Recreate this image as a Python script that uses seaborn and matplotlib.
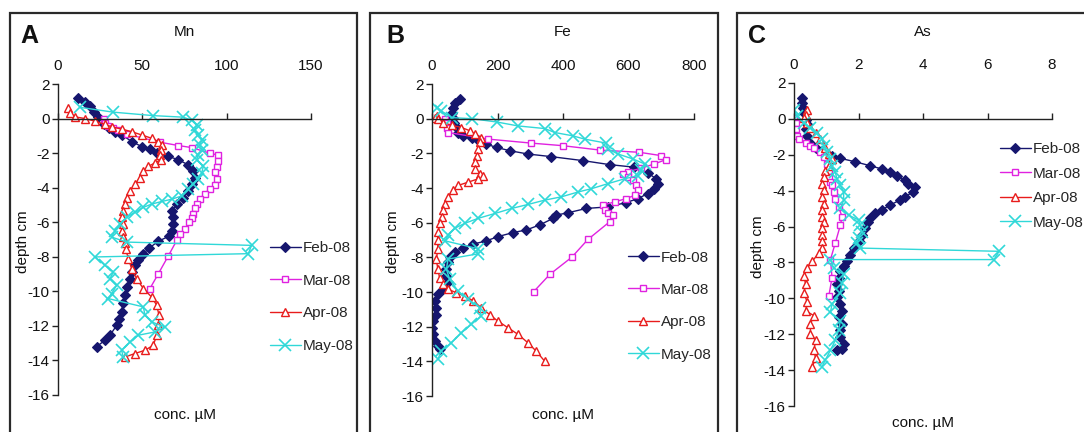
import numpy as np
import pandas as pd
import matplotlib
matplotlib.use("Agg")
import matplotlib.pyplot as plt
from matplotlib.patches import Rectangle
import seaborn as sns

# ---------------- data (conc, depth) ----------------
months = ["Feb-08", "Mar-08", "Apr-08", "May-08"]

# Mn (uM)
mn_feb_conc = [11.7, 16, 19, 21.5, 24, 27, 30, 34, 38, 43.7, 49.6, 54.5, 58.5, 65.4, 71.3, 77, 80, 81, 79.6, 77, 74.3, 70.4, 67.8, 68.4, 68.4, 67.4, 66, 59.5, 54, 50.6, 47.5, 45.6, 44, 42.7, 41, 39.7, 38.5, 37.7, 36, 34.8, 30.8, 27.9, 22.9]
mn_feb_depth = [1.18, 0.95, 0.72, 0.38, 0.1, -0.29, -0.57, -0.76, -0.95, -1.33, -1.62, -1.75, -2.0, -2.19, -2.38, -2.67, -3.05, -3.43, -3.81, -4.19, -4.57, -4.95, -5.33, -5.71, -6.1, -6.48, -6.8, -7.1, -7.5, -7.82, -8.2, -8.5, -8.9, -9.27, -9.75, -10.2, -10.7, -11.2, -11.6, -11.97, -12.54, -12.83, -13.2]
mn_mar_conc = [27.5, 28, 29.8, 32.8, 35.8, 40.7, 60.5, 71.3, 79.2, 90, 95, 95, 94, 93, 94, 93, 90, 87, 84.2, 82.2, 81, 80.2, 79.2, 77.5, 75.3, 72.5, 70.4, 65.4, 59.5, 54.5]
mn_mar_depth = [-0.02, -0.23, -0.45, -0.55, -0.67, -0.9, -1.37, -1.56, -1.68, -2.0, -2.12, -2.43, -2.81, -3.1, -3.5, -3.87, -4.06, -4.35, -4.64, -4.95, -5.2, -5.5, -5.75, -6.0, -6.4, -6.7, -7.05, -7.95, -8.98, -9.84]
mn_apr_conc = [5.7, 7.1, 10, 16, 21.9, 27.9, 31.8, 37.7, 43.7, 49.6, 55.5, 59.5, 61.5, 61, 60.5, 61, 57.5, 53.6, 50.6, 48.6, 45.7, 42.7, 40.7, 39.7, 38.7, 37.7, 38.7, 37.7, 38.7, 40, 40.1, 41.7, 43.7, 46.6, 50.6, 55.5, 58.5, 59.9, 59.5, 58.5, 56.5, 51.6, 45.6, 39.7]
mn_apr_depth = [0.61, 0.34, 0.1, 0, -0.15, -0.34, -0.48, -0.61, -0.76, -0.95, -1.14, -1.33, -1.52, -1.81, -2.1, -2.38, -2.57, -2.76, -3.05, -3.43, -3.81, -4.19, -4.57, -4.95, -5.33, -5.71, -6.1, -6.48, -6.86, -7.2, -7.53, -8.11, -8.69, -9.27, -9.84, -10.33, -10.8, -11.39, -11.97, -12.54, -13.12, -13.41, -13.6, -13.8]
mn_may_conc = [13, 32.8, 56.5, 74.3, 79.2, 82.2, 81.2, 83.2, 85.2, 84.2, 85.2, 83.2, 82.2, 86.2, 85.2, 83.2, 80.2, 77.3, 73.3, 67.4, 61.5, 55.5, 50.6, 45.7, 40.7, 36.8, 33.8, 31.8, 40.7, 114.8, 112.8, 21.9, 27.9, 32.8, 30.8, 34.8, 31.8, 29.8, 50.6, 51.6, 55.5, 63.4, 57.5, 47.6, 42.7, 37.7, 38.7]
mn_may_depth = [0.65, 0.37, 0.17, 0.08, -0.1, -0.38, -0.67, -0.95, -1.24, -1.52, -1.81, -2.1, -2.38, -2.76, -3.14, -3.52, -3.81, -4.1, -4.48, -4.67, -4.8, -4.95, -5.14, -5.43, -5.71, -6.1, -6.48, -6.86, -7.15, -7.34, -7.82, -8.01, -8.5, -8.88, -9.27, -9.65, -10.13, -10.42, -10.9, -11.39, -11.77, -12.06, -12.35, -12.54, -12.93, -13.41, -13.8]

# Fe (uM)
fe_feb_conc = [85, 70, 65, 62, 65, 68, 75, 80, 95, 121, 141, 166, 197, 238, 293, 364, 461, 542, 618, 659, 684, 689, 679, 659, 629, 593, 537, 471, 415, 380, 370, 329, 288, 248, 202, 166, 125, 95, 69, 54, 49, 44, 44, 49, 34, 18, 8, 13, 13, 3, 0, 3, 8, 18, 24]
fe_feb_depth = [1.14, 0.91, 0.63, 0.34, 0.06, -0.23, -0.51, -0.8, -0.99, -1.09, -1.22, -1.47, -1.66, -1.85, -2.04, -2.19, -2.42, -2.65, -2.8, -3.12, -3.47, -3.75, -4.04, -4.32, -4.61, -4.84, -5.09, -5.18, -5.43, -5.56, -5.75, -6.13, -6.42, -6.57, -6.8, -7.05, -7.24, -7.44, -7.72, -8.0, -8.29, -8.67, -9.05, -9.44, -9.81, -10.1, -10.5, -10.9, -11.3, -11.7, -12.1, -12.4, -12.8, -13.1, -13.3]
fe_mar_conc = [40, 45, 45, 50, 172, 303, 400, 512, 633, 699, 715, 679, 639, 599, 583, 599, 614, 624, 629, 619, 593, 558, 522, 527, 538, 553, 543, 476, 427, 360, 310]
fe_mar_depth = [-0.04, -0.23, -0.51, -0.8, -1.18, -1.41, -1.56, -1.81, -1.94, -2.13, -2.36, -2.61, -2.86, -3.05, -3.18, -3.37, -3.56, -3.85, -4.13, -4.42, -4.61, -4.8, -4.99, -5.28, -5.47, -5.56, -5.94, -6.97, -7.99, -8.98, -9.99]
fe_apr_conc = [14, 9, 19, 35, 60, 90, 116, 131, 151, 146, 141, 136, 131, 131, 146, 157, 141, 111, 80, 65, 50, 40, 35, 30, 24, 19, 17, 18, 13, 18, 23, 34, 49, 74, 100, 125, 150, 176, 201, 232, 263, 293, 318, 344]
fe_apr_depth = [0.17, 0.06, -0.04, -0.23, -0.38, -0.51, -0.7, -0.9, -1.09, -1.37, -1.75, -2.13, -2.51, -2.9, -3.18, -3.28, -3.47, -3.66, -3.85, -4.13, -4.51, -4.9, -5.28, -5.66, -6.04, -6.51, -6.99, -7.53, -8.11, -8.69, -9.17, -9.55, -9.84, -10.04, -10.23, -10.5, -10.9, -11.3, -11.68, -12.06, -12.45, -12.93, -13.41, -13.99]
fe_may_conc = [14, 29, 60, 121, 197, 263, 344, 375, 430, 466, 532, 537, 568, 613, 649, 639, 629, 588, 537, 487, 446, 395, 344, 293, 243, 192, 141, 100, 70, 50, 40, 140, 140, 49, 44, 54, 79, 110, 146, 150, 120, 90, 59, 28, 18]
fe_may_depth = [0.63, 0.44, 0.06, 0, -0.19, -0.42, -0.57, -0.8, -0.99, -1.18, -1.41, -1.75, -2.04, -2.32, -2.61, -2.99, -3.28, -3.47, -3.75, -4.04, -4.23, -4.51, -4.7, -4.95, -5.18, -5.47, -5.75, -6.04, -6.32, -6.7, -7.05, -7.5, -7.8, -8.1, -8.69, -9.27, -9.94, -10.42, -10.9, -11.39, -11.87, -12.35, -12.93, -13.41, -13.89]

# As (uM)
as_feb_conc = [0.26, 0.26, 0.29, 0.31, 0.36, 0.41, 0.36, 0.41, 0.51, 0.67, 0.87, 1.03, 1.18, 1.44, 1.9, 2.36, 2.72, 2.97, 3.18, 3.44, 3.54, 3.74, 3.69, 3.44, 3.28, 2.97, 2.72, 2.51, 2.36, 2.31, 2.21, 2.1, 2.03, 1.85, 1.74, 1.64, 1.54, 1.44, 1.38, 1.34, 1.38, 1.34, 1.44, 1.49, 1.38, 1.49, 1.44, 1.44, 1.54, 1.49, 1.34]
as_feb_depth = [1.16, 0.88, 0.61, 0.33, -0.04, -0.31, -0.59, -0.95, -1.32, -1.6, -1.78, -1.96, -2.09, -2.2, -2.39, -2.61, -2.79, -2.97, -3.16, -3.43, -3.61, -3.8, -4.07, -4.35, -4.53, -4.81, -5.08, -5.27, -5.54, -5.72, -6.09, -6.46, -6.83, -7.2, -7.56, -7.93, -8.2, -8.48, -8.85, -9.22, -9.59, -9.95, -10.32, -10.69, -11.05, -11.42, -11.79, -12.15, -12.52, -12.8, -12.89]
as_mar_conc = [0.0, 0.05, 0.05, 0.1, 0.15, 0.36, 0.51, 0.62, 0.82, 0.92, 1.03, 1.08, 1.08, 1.13, 1.18, 1.23, 1.28, 1.38, 1.49, 1.44, 1.28, 1.13, 1.18, 1.08]
as_mar_depth = [0.06, -0.22, -0.59, -0.95, -1.14, -1.32, -1.5, -1.6, -1.87, -2.15, -2.51, -2.88, -3.25, -3.52, -3.71, -4.07, -4.44, -4.9, -5.45, -5.91, -6.92, -7.84, -8.85, -9.86]
as_apr_conc = [0.41, 0.36, 0.31, 0.41, 0.51, 0.67, 0.82, 0.97, 1.08, 1.18, 1.08, 0.97, 0.92, 0.87, 0.92, 0.87, 0.92, 0.87, 0.87, 0.92, 0.87, 0.87, 0.87, 0.87, 0.77, 0.57, 0.41, 0.31, 0.36, 0.31, 0.41, 0.36, 0.62, 0.51, 0.51, 0.67, 0.62, 0.67, 0.57]
as_apr_depth = [0.51, 0.24, 0.06, -0.22, -0.5, -0.77, -1.14, -1.6, -1.96, -2.24, -2.61, -2.88, -3.25, -3.61, -3.98, -4.35, -4.72, -5.08, -5.45, -5.72, -6.09, -6.46, -6.8, -7.2, -7.47, -7.93, -8.3, -8.76, -9.22, -9.68, -10.23, -10.69, -10.97, -11.42, -11.97, -12.34, -12.89, -13.35, -13.8]
as_may_conc = [0.0, 0.1, 0.31, 0.51, 0.72, 0.87, 0.92, 1.03, 1.13, 1.18, 1.28, 1.33, 1.44, 1.54, 1.54, 1.44, 1.69, 2.0, 2.05, 2.1, 2.0, 1.95, 2.05, 6.36, 6.2, 1.13, 1.23, 1.54, 1.49, 1.44, 1.18, 1.13, 1.44, 1.38, 1.28, 1.13, 0.97, 0.87]
as_may_depth = [0.51, 0.15, -0.22, -0.5, -0.77, -1.14, -1.5, -1.87, -2.24, -2.61, -2.97, -3.34, -3.71, -4.07, -4.53, -4.99, -5.36, -5.63, -5.91, -6.28, -6.64, -6.9, -7.2, -7.38, -7.84, -7.84, -8.3, -8.67, -9.12, -9.68, -10.32, -10.78, -11.24, -11.79, -12.34, -12.89, -13.44, -13.8]

elements = ["Mn", "Fe", "As"]
panel_letters = ["A", "B", "C"]
mn_xticks = [0, 50, 100, 150]
fe_xticks = [0, 200, 400, 600, 800]
as_xticks = [0, 2, 4, 6, 8]
depth_ticks = [2, 0, -2, -4, -6, -8, -10, -12, -14, -16]

series = {
    "Mn": [(mn_feb_conc, mn_feb_depth), (mn_mar_conc, mn_mar_depth), (mn_apr_conc, mn_apr_depth), (mn_may_conc, mn_may_depth)],
    "Fe": [(fe_feb_conc, fe_feb_depth), (fe_mar_conc, fe_mar_depth), (fe_apr_conc, fe_apr_depth), (fe_may_conc, fe_may_depth)],
    "As": [(as_feb_conc, as_feb_depth), (as_mar_conc, as_mar_depth), (as_apr_conc, as_apr_depth), (as_may_conc, as_may_depth)],
}
xticks = {"Mn": mn_xticks, "Fe": fe_xticks, "As": as_xticks}

# ---------------- style ----------------
sns.set_style("white")
plt.rcParams['font.family'] = ['Liberation Sans', 'DejaVu Sans']
plt.rcParams['axes.unicode_minus'] = False

W, H = 1084, 432
fig = plt.figure(figsize=(W / 100, H / 100), dpi=100)

def fx(x):
    return x / W

def fy(y):
    return 1 - y / H

styles = [
    dict(color="#16166e", marker="D", markersize=5.0, markerfacecolor="#16166e", markeredgecolor="#16166e", markeredgewidth=0.8),
    dict(color="#e022e0", marker="s", markersize=5.0, markerfacecolor="white", markeredgecolor="#e022e0", markeredgewidth=1.0),
    dict(color="#e81c1c", marker="^", markersize=5.5, markerfacecolor="white", markeredgecolor="#e81c1c", markeredgewidth=1.0),
    dict(color="#30d8d8", marker="x", markersize=8.0, markerfacecolor="#30d8d8", markeredgecolor="#30d8d8", markeredgewidth=1.2),
]

# axes geometry in pixels: (left, right, top(y=2), bottom(y=-16))
geo = {
    "Mn": (58, 311, 84, 395),
    "Fe": (432, 694, 84, 396),
    "As": (794, 1052, 83, 406),
}
boxes = {"Mn": (10, 357), "Fe": (370, 718), "As": (737, 1095)}
letter_x = {"Mn": 20, "Fe": 386, "As": 748}
ylabel_x = {"Mn": 23, "Fe": 393, "As": 758}
xlabel_y = {"Mn": 415, "Fe": 415, "As": 423}
legend_geo = {  # (left px, center y px, labelspacing)
    "Mn": (270, 297, 1.22),
    "Fe": (628, 306, 1.2),
    "As": (1000, 186, 0.68),
}
FS = 11

for el, letter in zip(elements, panel_letters):
    l, r, t, b = geo[el]
    ax = fig.add_axes([fx(l), fy(b), fx(r) - fx(l), fy(t) - fy(b)])
    ax.set_facecolor("none")
    handles = []
    for (conc, depth), st, m in zip(series[el], styles, months):
        df = pd.DataFrame({"conc": conc, "depth": depth})
        sns.lineplot(data=df, x="conc", y="depth", sort=False, estimator=None,
                     ax=ax, linewidth=1.0, legend=False, **st)
        line = ax.lines[-1]
        line.set_label(m)
        handles.append(line)

    xt = xticks[el]
    ax.set_xlim(xt[0], xt[-1])
    ax.set_ylim(-16, 2)
    ax.set_xticks(xt)
    ax.set_xticklabels([str(v) for v in xt])
    ax.set_yticks(depth_ticks)
    ax.set_yticklabels([str(v) for v in depth_ticks])
    ax.set_xlabel("")
    ax.set_ylabel("")
    ax.grid(False)

    for s in ["top", "right"]:
        ax.spines[s].set_visible(False)
    ax.spines["bottom"].set_position(("data", 0))
    ax.spines["bottom"].set_bounds(xt[0], xt[-1])
    for s in ["left", "bottom"]:
        ax.spines[s].set_color("#222222")
        ax.spines[s].set_linewidth(1.0)
    ax.spines["left"].set_bounds(-16, 2)

    ax.tick_params(axis="x", which="major", bottom=True, top=False,
                   labelbottom=False, labeltop=True, direction="in",
                   length=4, width=1, color="#222222", pad=8,
                   labelsize=FS, labelcolor="#111111")
    ax.tick_params(axis="y", which="major", left=True, direction="out",
                   length=4, width=1, color="#222222", pad=2,
                   labelsize=FS, labelcolor="#111111")

    # titles / labels
    cx = (l + r) / 2
    fig.text(fx(cx), fy(32), el, ha="center", va="center", fontsize=FS, color="#111111")
    fig.text(fx(letter_x[el]), fy(36), letter, ha="left", va="center",
             fontsize=18, fontweight="bold", color="#111111")
    fig.text(fx(ylabel_x[el]), fy((t + b) / 2 + 2), "depth cm", rotation=90,
             ha="center", va="center", fontsize=FS, color="#111111")
    fig.text(fx(cx), fy(xlabel_y[el]), "conc. \u00b5M", ha="center", va="center",
             fontsize=FS, color="#111111")

    lx, ly, lsp = legend_geo[el]
    ax.legend(handles=handles, labels=months, loc="center left",
              bbox_to_anchor=(fx(lx), fy(ly)), bbox_transform=fig.transFigure,
              frameon=False, fontsize=11, borderpad=0, borderaxespad=0,
              handlelength=2.0, handletextpad=0.15, labelspacing=lsp)

    # panel box
    x0, x1 = boxes[el]
    fig.add_artist(Rectangle((fx(x0), -0.1), fx(x1) - fx(x0), fy(13) + 0.1,
                             transform=fig.transFigure, fill=False,
                             edgecolor="#2a2a2a", linewidth=1.6, clip_on=False))

fig.savefig("out.png", dpi=100)
